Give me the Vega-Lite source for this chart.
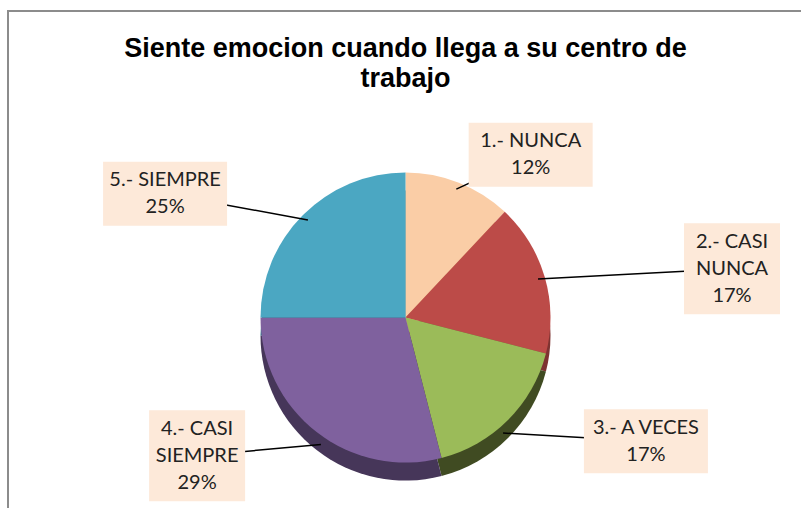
{
  "$schema": "https://vega.github.io/schema/vega-lite/v6.json",
  "width": 795,
  "height": 499,
  "autosize": {"type": "none"},
  "padding": {"left": 8, "top": 11, "right": -2, "bottom": -2},
  "background": "white",
  "view": {"stroke": "#8c8c8c", "strokeWidth": 2, "fill": "white"},
  "title": {
    "text": ["Siente emocion cuando llega a su centro de", "trabajo"],
    "font": "Liberation Sans",
    "fontSize": 27,
    "fontWeight": "bold",
    "color": "#000000",
    "anchor": "middle",
    "baseline": "top",
    "lineHeight": 30,
    "offset": -22,
    "dy": 60
  },
  "data": {
    "values": [
      {"respuesta": "1.- NUNCA", "pct": 12, "etiqueta": "1.- NUNCA\n12%"},
      {"respuesta": "2.- CASI NUNCA", "pct": 17, "etiqueta": "2.- CASI\nNUNCA\n17%"},
      {"respuesta": "3.- A VECES", "pct": 17, "etiqueta": "3.- A VECES\n17%"},
      {"respuesta": "4.- CASI SIEMPRE", "pct": 29, "etiqueta": "4.- CASI\nSIEMPRE\n29%"},
      {"respuesta": "5.- SIEMPRE", "pct": 25, "etiqueta": "5.- SIEMPRE\n25%"}
    ]
  },
  "transform": [
    {"stack": "pct", "groupby": [], "sort": [{"field": "respuesta", "order": "ascending"}], "as": ["p0", "p1"]}
  ],
  "layer": [
    {
      "mark": {"type": "arc", "outerRadius": 145, "yOffset": 75},
      "encoding": {
        "theta": {"field": "p0", "type": "quantitative", "stack": null, "scale": {"domain": [0, 100]}},
        "theta2": {"field": "p1"},
        "color": {
          "field": "respuesta",
          "type": "nominal",
          "scale": {
            "domain": ["1.- NUNCA", "2.- CASI NUNCA", "3.- A VECES", "4.- CASI SIEMPRE", "5.- SIEMPRE"],
            "range": ["#D9A070", "#7E3331", "#404B22", "#463659", "#2C7388"]
          },
          "legend": null
        }
      }
    },
    {
      "mark": {"type": "arc", "outerRadius": 145, "yOffset": 57},
      "encoding": {
        "theta": {"field": "p0", "type": "quantitative", "stack": null, "scale": {"domain": [0, 100]}},
        "theta2": {"field": "p1"},
        "color": {
          "field": "respuesta",
          "type": "nominal",
          "scale": {
            "domain": ["1.- NUNCA", "2.- CASI NUNCA", "3.- A VECES", "4.- CASI SIEMPRE", "5.- SIEMPRE"],
            "range": ["#FACDA6", "#BC4B48", "#9BBB59", "#7F619E", "#4BA7C2"]
          },
          "legend": null
        }
      }
    },
    {
      "mark": {"type": "rule", "color": "#000000", "strokeWidth": 1.5},
      "encoding": {
        "x": {"value": {"expr": "width/2 + 138*sin(PI*(datum.p0+datum.p1)/100)"}},
        "y": {"value": {"expr": "height/2 + 57 - 138*cos(PI*(datum.p0+datum.p1)/100) + (cos(PI*(datum.p0+datum.p1)/100) < 0 ? 18 : 0)"}},
        "x2": {"value": {"expr": "width/2 + 340*sin(PI*(datum.p0+datum.p1)/100)"}},
        "y2": {"value": {"expr": "height/2 + 57 - 175*cos(PI*(datum.p0+datum.p1)/100)"}}
      }
    },
    {
      "mark": {"type": "rect", "color": "#FDE9D9"},
      "encoding": {
        "x": {"value": {"expr": "width/2 + 340*sin(PI*(datum.p0+datum.p1)/100) - (length(split(datum.etiqueta, '\\n')) > 2 ? 48 : 62)"}},
        "x2": {"value": {"expr": "width/2 + 340*sin(PI*(datum.p0+datum.p1)/100) + (length(split(datum.etiqueta, '\\n')) > 2 ? 48 : 62)"}},
        "y": {"value": {"expr": "height/2 + 57 - 175*cos(PI*(datum.p0+datum.p1)/100) - (27*length(split(datum.etiqueta, '\\n')) + 10)/2"}},
        "y2": {"value": {"expr": "height/2 + 57 - 175*cos(PI*(datum.p0+datum.p1)/100) + (27*length(split(datum.etiqueta, '\\n')) + 10)/2"}}
      }
    },
    {
      "mark": {
        "type": "text",
        "x": {"expr": "width/2 + 340*sin(PI*(datum.p0+datum.p1)/100)"},
        "y": {"expr": "height/2 + 57 - 175*cos(PI*(datum.p0+datum.p1)/100) - (length(split(datum.etiqueta, '\\n')) - 1) * 13.5"},
        "lineBreak": "\n",
        "font": "Lato",
        "fontSize": 20,
        "lineHeight": 27,
        "color": "#222222",
        "align": "center",
        "baseline": "middle"
      },
      "encoding": {"text": {"field": "etiqueta", "type": "nominal"}}
    }
  ],
  "resolve": {"scale": {"color": "independent"}}
}
